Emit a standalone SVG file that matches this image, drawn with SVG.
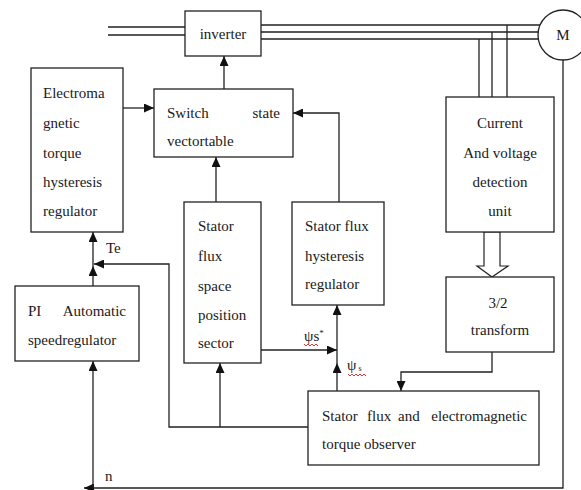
<svg xmlns="http://www.w3.org/2000/svg" width="581" height="490" viewBox="0 0 581 490">
<style>
.box{fill:#fff;stroke:#222;stroke-width:1.3}
.ln{fill:none;stroke:#222;stroke-width:1.3}
.t{font-family:"Liberation Serif","Times New Roman",serif;font-size:15px;fill:#1a1a1a}
.sq{fill:none;stroke:#e02020;stroke-width:0.9}
</style>
<defs>
<marker id="ah" markerUnits="userSpaceOnUse" markerWidth="11" markerHeight="9" refX="10" refY="4.5" orient="auto">
<path d="M0,0 L10,4.5 L0,9 z" fill="#111"/>
</marker>
</defs>
<rect width="581" height="490" fill="#fff"/>
<g id="connectors">
<path class="ln" d="M108,27 H185 M108,35 H185"/>
<path class="ln" d="M261,25 H540 M261,32 H538 M261,39 H538"/>
<path class="ln" d="M479,39 V97 M492,32 V97 M507,25 V97"/>
<path class="ln" d="M224,89 V56" marker-end="url(#ah)"/>
<path class="ln" d="M123,108 H154" marker-end="url(#ah)"/>
<path class="ln" d="M339,202 V113 H293" marker-end="url(#ah)"/>
<path class="ln" d="M216,202 V157" marker-end="url(#ah)"/>
<path class="ln" d="M93,286 V266" marker-end="url(#ah)"/>
<path class="ln" d="M93,266 V232" marker-end="url(#ah)"/>
<path class="ln" d="M308,427 H169 V264 H94" marker-end="url(#ah)"/>
<path class="ln" d="M220,427 V363" marker-end="url(#ah)"/>
<path class="ln" d="M261,350 H337" marker-end="url(#ah)"/>
<path class="ln" d="M337,391 V363" marker-end="url(#ah)"/>
<path class="ln" d="M337,363 V305" marker-end="url(#ah)"/>
<path class="ln" d="M492,352 V372 H401 V391" marker-end="url(#ah)"/>
<path class="ln" d="M563,60 V488 H84" marker-end="url(#ah)"/>
<path class="ln" d="M93,488 V361" marker-end="url(#ah)"/>
<path d="M484,232 V266 H477 L492,277 L508,266 H500 V232 Z" fill="#fff" stroke="#222" stroke-width="1.2"/>
</g>
<g id="inverter">
<rect class="box" x="185" y="11" width="76" height="45"/>
<text class="t" x="223" y="39" text-anchor="middle">inverter</text>
</g>
<g id="motor">
<circle class="box" cx="563" cy="35" r="25"/>
<text class="t" x="563" y="40" text-anchor="middle">M</text>
</g>
<g id="torque-hysteresis">
<rect class="box" x="31" y="68" width="92" height="164"/>
<text class="t" x="43" y="98">Electroma</text>
<text class="t" x="43" y="128">gnetic</text>
<text class="t" x="43" y="158">torque</text>
<text class="t" x="43" y="187">hysteresis</text>
<text class="t" x="43" y="216">regulator</text>
</g>
<g id="switch-table">
<rect class="box" x="154" y="89" width="139" height="68"/>
<text class="t" x="167" y="118">Switch</text>
<text class="t" x="280" y="118" text-anchor="end">state</text>
<text class="t" x="167" y="146">vectortable</text>
</g>
<g id="sector">
<rect class="box" x="184" y="202" width="77" height="161"/>
<text class="t" x="198" y="231">Stator</text>
<text class="t" x="198" y="261">flux</text>
<text class="t" x="198" y="291">space</text>
<text class="t" x="198" y="320">position</text>
<text class="t" x="198" y="348">sector</text>
</g>
<g id="flux-hysteresis">
<rect class="box" x="292" y="202" width="92" height="103"/>
<text class="t" x="305" y="231">Stator flux</text>
<text class="t" x="305" y="261">hysteresis</text>
<text class="t" x="305" y="289">regulator</text>
</g>
<g id="detection">
<rect class="box" x="446" y="97" width="108" height="135"/>
<text class="t" x="500" y="128" text-anchor="middle">Current</text>
<text class="t" x="500" y="158" text-anchor="middle">And voltage</text>
<text class="t" x="500" y="187" text-anchor="middle">detection</text>
<text class="t" x="500" y="216" text-anchor="middle">unit</text>
</g>
<g id="transform">
<rect class="box" x="446" y="277" width="108" height="75"/>
<text class="t" x="498" y="308" text-anchor="middle">3/2</text>
<text class="t" x="500" y="335" text-anchor="middle">transform</text>
</g>
<g id="pi">
<rect class="box" x="15" y="286" width="124" height="75"/>
<text class="t" x="28" y="316">PI</text>
<text class="t" x="126" y="316" text-anchor="end">Automatic</text>
<text class="t" x="28" y="345">speedregulator</text>
</g>
<g id="observer">
<rect class="box" x="308" y="391" width="231" height="74"/>
<text class="t" x="322" y="421">Stator</text>
<text class="t" x="367" y="421">flux</text>
<text class="t" x="398" y="421">and</text>
<text class="t" x="527" y="421" text-anchor="end">electromagnetic</text>
<text class="t" x="322" y="449">torque observer</text>
</g>
<g id="labels">
<text class="t" x="106" y="253">Te</text>
<text class="t" x="105" y="481">n</text>
<text class="t" x="304" y="341" font-size="13">ψs<tspan font-size="9" dy="-5">*</tspan></text>
<path class="sq" d="M304,344 l2,2 l2,-2 l2,2 l2,-2 l2,2 l2,-2 l2,2"/>
<text class="t" x="347" y="370" font-size="14">ψ<tspan font-size="8" dx="2" dy="1">s</tspan></text>
<path class="sq" d="M348,374 l2,2 l2,-2 l2,2 l2,-2 l2,2 l2,-2 l2,2 l2,-2 l2,2"/>
</g>
</svg>
